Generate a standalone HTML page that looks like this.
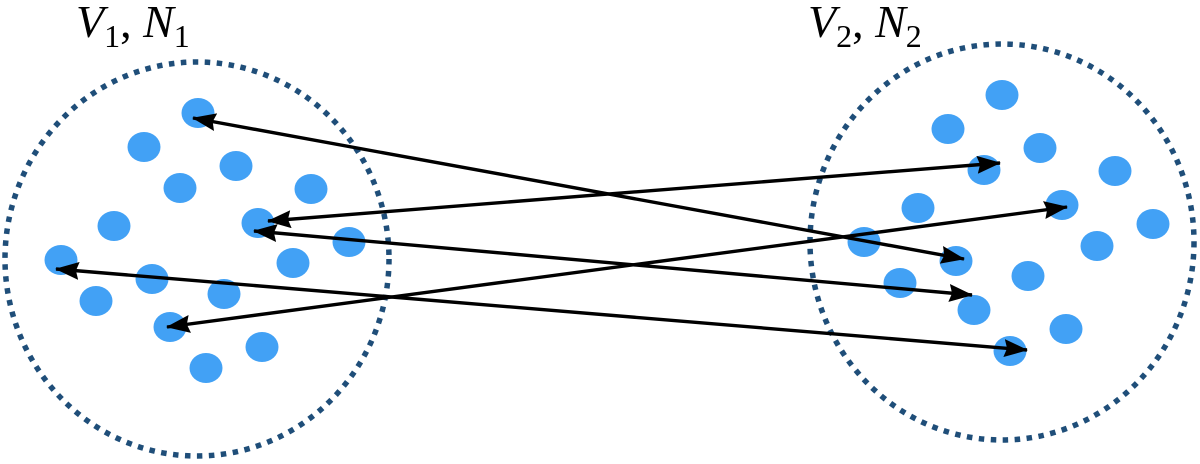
<!DOCTYPE html>
<html><head><meta charset="utf-8"><style>
html,body{margin:0;padding:0;background:#fff;}
svg{display:block;}
.lbl{font-family:"Liberation Serif","Times New Roman",serif;font-size:46px;fill:#000;}
.it{font-style:italic;}
</style></head><body>
<svg width="1200" height="464" viewBox="0 0 1200 464" xmlns="http://www.w3.org/2000/svg">
<defs>
<marker id="ah" viewBox="0 0 24 18" refX="23" refY="9" markerWidth="24" markerHeight="18" markerUnits="userSpaceOnUse" orient="auto-start-reverse">
<path d="M0,0 L24,9 L0,18 L3,9 z" fill="#000"/>
</marker>
</defs>
<ellipse cx="197" cy="259" rx="192" ry="197" fill="none" stroke="#1f4e79" stroke-width="5.5" stroke-dasharray="5.5 6.5"/>
<ellipse cx="1002" cy="242" rx="192" ry="198" fill="none" stroke="#1f4e79" stroke-width="5.5" stroke-dasharray="5.5 6.5"/>
<g fill="#42a1f5">
<ellipse cx="198" cy="113" rx="16.5" ry="15"/>
<ellipse cx="144" cy="147" rx="16.5" ry="15"/>
<ellipse cx="236" cy="166" rx="16.5" ry="15"/>
<ellipse cx="180" cy="188" rx="16.5" ry="15"/>
<ellipse cx="311" cy="189" rx="16.5" ry="15"/>
<ellipse cx="114" cy="226" rx="16.5" ry="15"/>
<ellipse cx="258" cy="223" rx="16.5" ry="15"/>
<ellipse cx="349" cy="242" rx="16.5" ry="15"/>
<ellipse cx="293" cy="263" rx="16.5" ry="15"/>
<ellipse cx="61" cy="260" rx="16.5" ry="15"/>
<ellipse cx="152" cy="279" rx="16.5" ry="15"/>
<ellipse cx="224" cy="294" rx="16.5" ry="15"/>
<ellipse cx="96" cy="301" rx="16.5" ry="15"/>
<ellipse cx="170" cy="327" rx="16.5" ry="15"/>
<ellipse cx="262" cy="347" rx="16.5" ry="15"/>
<ellipse cx="206" cy="368" rx="16.5" ry="15"/>

<ellipse cx="1002" cy="95" rx="16.5" ry="15"/>
<ellipse cx="948" cy="129" rx="16.5" ry="15"/>
<ellipse cx="1040" cy="148" rx="16.5" ry="15"/>
<ellipse cx="984" cy="170" rx="16.5" ry="15"/>
<ellipse cx="1115" cy="171" rx="16.5" ry="15"/>
<ellipse cx="918" cy="208" rx="16.5" ry="15"/>
<ellipse cx="1062" cy="205" rx="16.5" ry="15"/>
<ellipse cx="1153" cy="224" rx="16.5" ry="15"/>
<ellipse cx="864" cy="242" rx="16.5" ry="15"/>
<ellipse cx="1097" cy="246" rx="16.5" ry="15"/>
<ellipse cx="956" cy="261" rx="16.5" ry="15"/>
<ellipse cx="1028" cy="276" rx="16.5" ry="15"/>
<ellipse cx="900" cy="283" rx="16.5" ry="15"/>
<ellipse cx="974" cy="310" rx="16.5" ry="15"/>
<ellipse cx="1066" cy="329" rx="16.5" ry="15"/>
<ellipse cx="1010" cy="351" rx="16.5" ry="15"/>
</g>
<g stroke="#000" stroke-width="3.4" fill="none" marker-start="url(#ah)" marker-end="url(#ah)">
<line x1="193" y1="118" x2="964" y2="259"/>
<line x1="268" y1="221" x2="1000" y2="163"/>
<line x1="254" y1="231" x2="972" y2="295"/>
<line x1="56" y1="269" x2="1027" y2="350"/>
<line x1="167" y1="327" x2="1067" y2="207"/>
</g>
<text class="lbl" x="76" y="37"><tspan class="it">V</tspan><tspan font-size="32" dy="10">1</tspan><tspan dy="-10">, </tspan><tspan class="it">N</tspan><tspan font-size="32" dy="10">1</tspan></text>
<text class="lbl" x="808" y="37"><tspan class="it">V</tspan><tspan font-size="32" dy="10">2</tspan><tspan dy="-10">, </tspan><tspan class="it">N</tspan><tspan font-size="32" dy="10">2</tspan></text>
</svg>
</body></html>
